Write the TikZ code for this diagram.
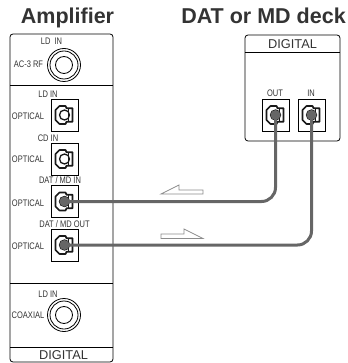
\documentclass[tikz,border=0pt]{standalone}
\usepackage{fontspec}
\setmainfont{Liberation Sans}
\newfontfamily\labf[FakeStretch=.79]{Liberation Sans}
\tikzset{
 x=1pt,y=-1pt,
 panel/.style={draw=black,line width=.8pt,rounded corners=3pt},
 sep/.style={draw=black,line width=.8pt},
 title/.style={font=\bfseries\fontsize{21.5}{22}\selectfont,text=black!80,inner sep=0,anchor=base},
 lab/.style={font=\labf\fontsize{9.5}{10}\selectfont,text=black!80,inner sep=0},
 big/.style={font=\fontsize{12.8}{13}\selectfont,text=black!80,inner sep=0},
 cable/.style={draw=black!60,line width=3pt,rounded corners=14pt},
 hollow/.style={draw=black!45,line width=.8pt,fill=white},
 jackbox/.style={draw=black,line width=.8pt,fill=white,minimum width=27pt,minimum height=32pt,inner sep=0},
 ringo/.style={circle,draw=black,line width=.8pt,inner sep=0},
}
\newcommand{\opticaljack}[2]{%
 \node[jackbox] (#1) at (#2) {};
 \begin{scope}[shift={(#2)}]
  \draw[line width=1.7pt,black!90,line join=round] (-5,-9)--(1,-9)--(2,-6.8)--(8,-6.8)--(8,6.8)--(2,6.8)--(1,9)--(-5,9)--(-9,5)--(-9,-5)--cycle;
  \draw[line width=1.3pt,black!90,fill=white] (0,0) circle (5);
  \draw[line width=.9pt,black!90] (3.5,-6.8)--(3.5,6.8);
 \end{scope}}
\begin{document}
\begin{tikzpicture}
\useasboundingbox (0,0) rectangle (347,363);
\node[title] (t1) at (67.5,24) {Amplifier};
\node[title] (t2) at (263.5,24) {DAT or MD deck};
% amplifier panel
\draw[panel] (10,34) rectangle (113,362);
\coordinate (a1) at (10,85); \coordinate (a2) at (113,85);
\coordinate (b1) at (10,283); \coordinate (b2) at (113,283);
\coordinate (c1) at (10,347); \coordinate (c2) at (113,347);
\draw[sep] (a1)--(a2) (b1)--(b2) (c1)--(c2);
\node[lab] (l0) at (51.5,41) {LD\ \ IN};
\node[lab] (l1) at (28.5,64) {AC-3 RF};
\node[ringo,minimum size=33pt] (rca) at (64,65) {};
\node[ringo,minimum size=28pt] (rcab) at (64,65) {};
\node[ringo,minimum size=17pt] (rcac) at (64,65) {};
\node[lab] (l2) at (48,94) {LD IN};
\node[lab] (l3) at (28,116) {OPTICAL};
\node[lab] (l4) at (48,138) {CD IN};
\node[lab] (l5) at (28,159) {OPTICAL};
\node[lab] (l6) at (60,180) {DAT / MD IN};
\node[lab] (l7) at (28,203) {OPTICAL};
\node[lab] (l8) at (64.5,224) {DAT / MD OUT};
\node[lab] (l9) at (28,246) {OPTICAL};
\node[lab] (l10) at (48,294) {LD IN};
\node[lab] (l11) at (28,315) {COAXIAL};
\node[ringo,minimum size=33pt] (cx) at (64,315) {};
\node[ringo,minimum size=28pt] (cxb) at (64,315) {};
\node[ringo,minimum size=17pt] (cxc) at (64,315) {};
\node[big] (dg1) at (63.5,355) {DIGITAL};
% deck
\draw[panel] (245,35) rectangle (340,141);
\coordinate (d1) at (245,52); \coordinate (d2) at (340,52);
\draw[sep] (d1)--(d2);
\node[big] (dg2) at (292.5,44) {DIGITAL};
\node[lab] (o) at (275,93) {OUT};
\node[lab] (i) at (311,93) {IN};
\opticaljack{j1}{64.5,115}
\opticaljack{j2}{64.5,159}
\opticaljack{j3}{64.5,201.5}
\opticaljack{j4}{64.5,245}
\opticaljack{j5}{275.5,115}
\opticaljack{j6}{311.5,115}
\draw[cable] (j3.center) -- (275.5,201.5) -- (j5.center);
\draw[cable] (j4.center) -- (311.5,245) -- (j6.center);
\fill[black!60] (j3.center) circle (5) (j4.center) circle (5) (j5.center) circle (5) (j6.center) circle (5);
% direction arrows
\draw[hollow] (161,194)--(179,185)--(179,190)--(203,190)--(203,194)--cycle;
\draw[hollow] (203,238.5)--(184,229)--(184,234)--(161,234)--(161,238.5)--cycle;
\end{tikzpicture}
\end{document}
